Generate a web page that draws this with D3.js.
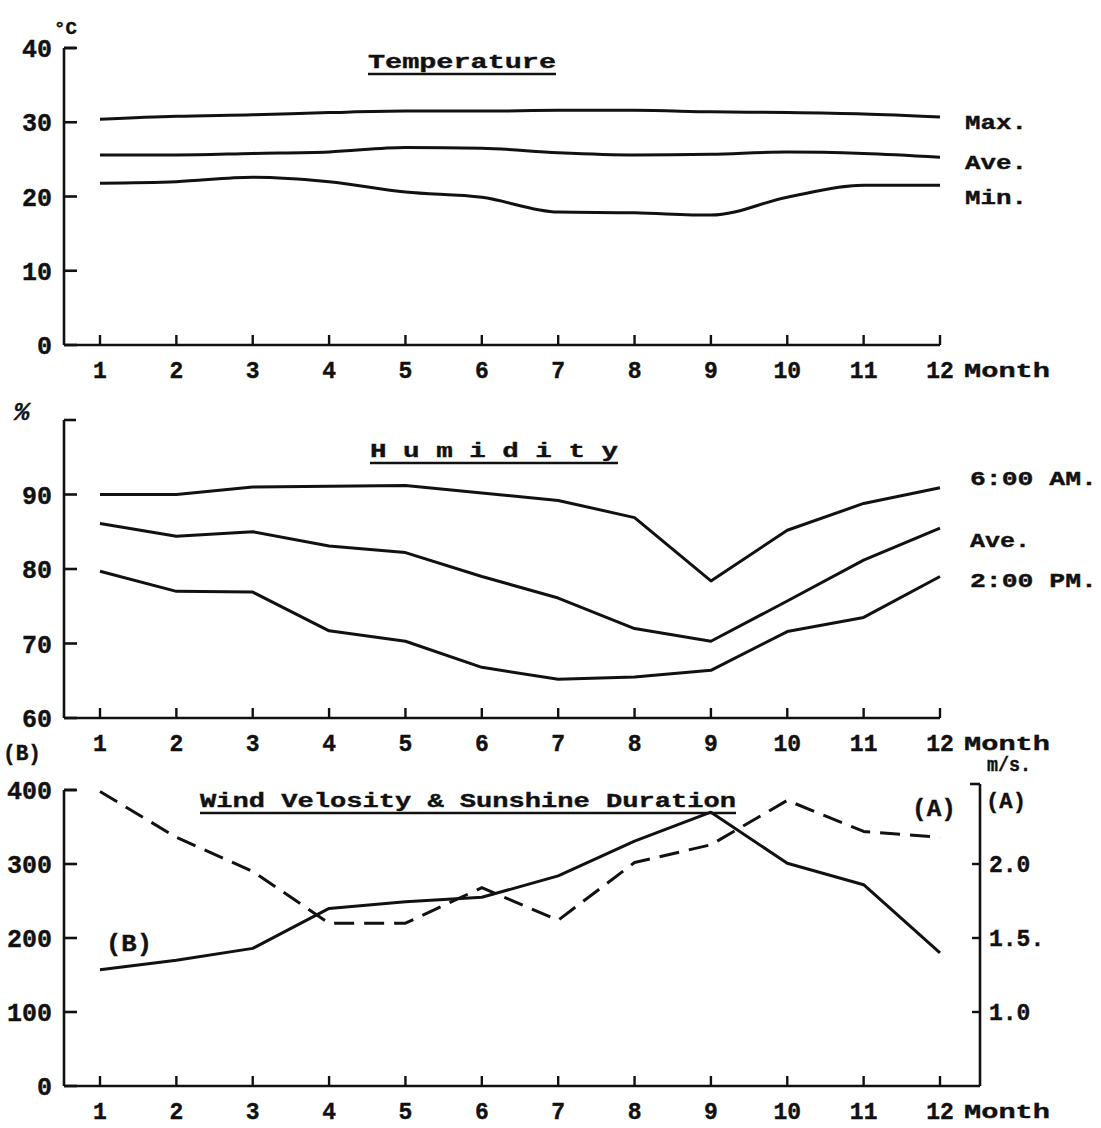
<!DOCTYPE html>
<html><head><meta charset="utf-8">
<script src="https://cdn.jsdelivr.net/npm/d3@7"></script>
<style>
html,body{margin:0;padding:0;background:#fff;}
svg text{font-family:"Liberation Mono","DejaVu Sans Mono",monospace;font-weight:bold;fill:#111;stroke:#111;stroke-width:0.4px;}
</style></head>
<body>
<svg id="chart" width="1101" height="1128"></svg>
<script>
const months = [1,2,3,4,5,6,7,8,9,10,11,12];
const monthLabels = ["1","2","3","4","5","6","7","8","9","10","11","12"];

const tempMax = [30.4, 30.8, 31.0, 31.3, 31.5, 31.5, 31.6, 31.6, 31.4, 31.3, 31.1, 30.7];
const tempAve = [25.6, 25.6, 25.8, 26.0, 26.6, 26.5, 25.9, 25.6, 25.7, 26.0, 25.8, 25.3];
const tempMin = [21.8, 22.0, 22.6, 22.0, 20.6, 19.9, 17.9, 17.8, 17.5, 19.9, 21.5, 21.5];
const tempTicks = [0, 10, 20, 30, 40];

const hum6am = [90.0, 90.0, 91.0, 91.1, 91.2, 90.2, 89.2, 86.9, 78.4, 85.2, 88.8, 90.9];
const humAve = [86.1, 84.4, 85.0, 83.1, 82.2, 79.0, 76.1, 72.0, 70.3, 75.7, 81.2, 85.5];
const hum2pm = [79.7, 77.0, 76.9, 71.7, 70.3, 66.8, 65.2, 65.5, 66.4, 71.6, 73.5, 79.0];
const humTicks = [60, 70, 80, 90];

const windA = [2.49, 2.18, 1.95, 1.60, 1.60, 1.84, 1.62, 2.01, 2.13, 2.43, 2.22, 2.18];
const sunB = [157, 170, 186, 240, 249, 255, 284, 331, 370, 301, 272, 180];
const sunTicks = [0, 100, 200, 300, 400];
const windTicks = [1.0, 1.5, 2.0];
const windTickLabels = ["1.0", "1.5.", "2.0"];

const svg = d3.select("#chart");
const x = d3.scaleLinear().domain([1, 12]).range([100, 940]);
const AXX = 64;

function label(tx, ty, txt, size, len){
  const t = svg.append("text").attr("x",tx).attr("y",ty).attr("dy","0.35em")
    .attr("font-size",size).text(txt);
  if(len) t.attr("textLength",len).attr("lengthAdjust","spacingAndGlyphs");
  return t;
}

function leftAxis(y, ticks, labels, top, bottom, xEnd){
  svg.append("line").attr("x1",AXX).attr("x2",AXX).attr("y1",top).attr("y2",bottom)
    .attr("stroke","#111").attr("stroke-width",2.6);
  svg.append("line").attr("x1",AXX).attr("x2",AXX+12).attr("y1",top).attr("y2",top)
    .attr("stroke","#111").attr("stroke-width",2.6);
  ticks.forEach((t,i)=>{
    svg.append("line").attr("x1",AXX).attr("x2",AXX+13).attr("y1",y(t)).attr("y2",y(t))
      .attr("stroke","#111").attr("stroke-width",2.6);
    svg.append("text").attr("x",AXX-12).attr("y",y(t)).attr("dy","0.36em")
      .attr("text-anchor","end").attr("font-size",25).text(labels[i]);
  });
  svg.append("line").attr("x1",AXX).attr("x2",xEnd).attr("y1",bottom).attr("y2",bottom)
    .attr("stroke","#111").attr("stroke-width",2.6);
  months.forEach((m,i)=>{
    svg.append("line").attr("x1",x(m)).attr("x2",x(m)).attr("y1",bottom).attr("y2",bottom-10)
      .attr("stroke","#111").attr("stroke-width",2.4);
    svg.append("text").attr("x",x(m)).attr("y",bottom+25).attr("dy","0.35em")
      .attr("text-anchor","middle").attr("font-size",23).text(monthLabels[i]);
  });
  label(964, bottom+25, "Month", 21, 86);
}

function drawLine(data, y, dashed, curve){
  const line = d3.line().x((d,i)=>x(months[i])).y(d=>y(d)).curve(curve || d3.curveLinear);
  const p = svg.append("path").datum(data).attr("d",line).attr("fill","none")
    .attr("stroke","#111").attr("stroke-width",3).attr("stroke-linejoin","round");
  if(dashed) p.attr("stroke-dasharray","20,10");
}

function title(txt, x0, x1, yb, size){
  svg.append("text").attr("x",x0).attr("y",yb).attr("font-size",size)
    .attr("textLength",x1-x0).attr("lengthAdjust","spacingAndGlyphs").text(txt);
  svg.append("line").attr("x1",x0).attr("x2",x1).attr("y1",yb+6).attr("y2",yb+6)
    .attr("stroke","#111").attr("stroke-width",2.4);
}

// ---------- Temperature ----------
const yT = d3.scaleLinear().domain([0, 40]).range([345, 48]);
leftAxis(yT, tempTicks, tempTicks.map(String), 48, 345, 940);
svg.append("text").attr("x",54).attr("y",34).attr("font-size",19).text("°C");
title("Temperature", 368, 556, 68, 21);
drawLine(tempMax, yT, false, d3.curveMonotoneX);
drawLine(tempAve, yT, false, d3.curveMonotoneX);
drawLine(tempMin, yT, false, d3.curveMonotoneX);
label(965, 122, "Max.", 21, 62);
label(965, 162, "Ave.", 21, 62);
label(965, 197, "Min.", 21, 62);

// ---------- Humidity ----------
const yH = d3.scaleLinear().domain([60, 100]).range([718, 420]);
leftAxis(yH, humTicks, humTicks.map(String), 420, 718, 940);
svg.append("text").attr("x",14).attr("y",420).attr("font-size",26).attr("font-style","italic").text("%");
title("H u m i d i t y", 370, 618, 457, 21);
drawLine(hum6am, yH, false);
drawLine(humAve, yH, false);
drawLine(hum2pm, yH, false);
label(970, 478, "6:00 AM.", 21, 127);
label(970, 540, "Ave.", 21, 60);
label(970, 580, "2:00 PM.", 21, 127);

// ---------- Wind & Sunshine ----------
const yB = d3.scaleLinear().domain([0, 400]).range([1086, 790]);
const yA = d3.scaleLinear().domain([0.5, 2.5]).range([1086, 790]);
leftAxis(yB, sunTicks, sunTicks.map(String), 790, 1086, 980);
const RX = 980;
svg.append("line").attr("x1",RX).attr("x2",RX).attr("y1",784).attr("y2",1086)
  .attr("stroke","#111").attr("stroke-width",2.6);
svg.append("line").attr("x1",RX-10).attr("x2",RX).attr("y1",784).attr("y2",784)
  .attr("stroke","#111").attr("stroke-width",2.6);
windTicks.forEach((t,i)=>{
  svg.append("line").attr("x1",RX-8).attr("x2",RX).attr("y1",yA(t)).attr("y2",yA(t))
    .attr("stroke","#111").attr("stroke-width",2.4);
  svg.append("text").attr("x",RX+9).attr("y",yA(t)).attr("dy","0.36em")
    .attr("font-size",23).text(windTickLabels[i]);
});
label(987, 764, "m/s.", 20, 44);
label(986, 800, "(A)", 22, 40);
label(3, 752, "(B)", 22, 38);
title("Wind Velosity & Sunshine Duration", 200, 736, 807, 21);
drawLine(windA, yA, true);
drawLine(sunB, yB, false);
label(106, 943, "(B)", 23, 46);
label(912, 808, "(A)", 23, 44);
</script>
</body></html>
